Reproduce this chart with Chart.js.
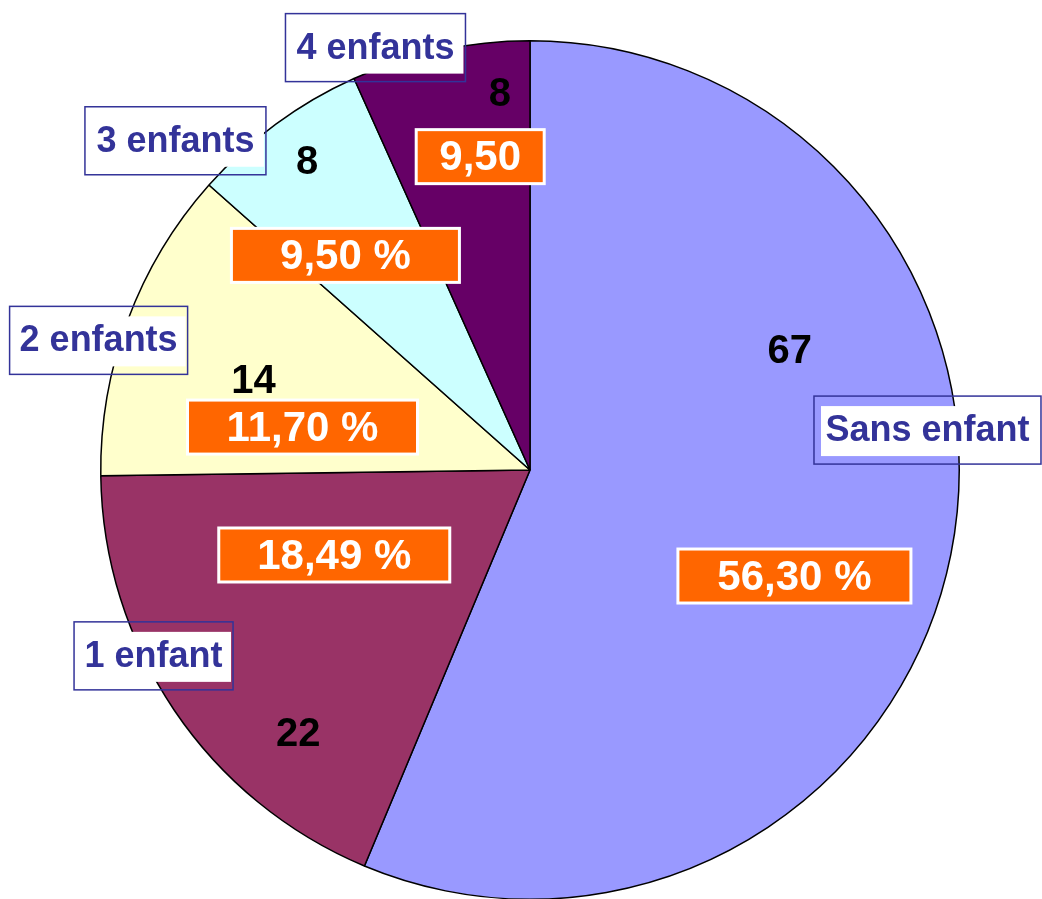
<!DOCTYPE html>
<html>
<head>
<meta charset="utf-8">
<script src="https://cdn.jsdelivr.net/npm/chart.js@4.4.0/dist/chart.umd.min.js"></script>
<style>
    html, body { margin: 0; padding: 0; background: #ffffff; overflow: hidden; }
    #wrap { position: relative; width: 1042px; height: 900px; }
</style>
</head>
<body>
<div id="wrap"><canvas id="pieChart"></canvas></div>
<script>
// data (clockwise from 12 o'clock)
var categories = ['Sans enfant', '1 enfant', '2 enfants', '3 enfants', '4 enfants'];
var counts = [67, 22, 14, 8, 8];
var percentLabels = ['56,30 %', '18,49 %', '11,70 %', '9,50 %', '9,50'];
var sliceColors = ['#9999ff', '#993366', '#ffffcc', '#ccffff', '#660066'];

// label placement, in fractions of the pie radius from its centre
var namePos = [[0.926, -0.093], [-0.877, 0.433], [-1.005, -0.302], [-0.826, -0.767], [-0.360, -0.984]];
var nameBoxW = [227, 159, 178, 181, 180];
var valuePos = [[0.605, -0.279], [-0.540, 0.612], [-0.644, -0.209], [-0.519, -0.721], [-0.070, -0.879]];
var pctPos = [[0.616, 0.247], [-0.456, 0.198], [-0.530, -0.100], [-0.430, -0.500], [-0.116, -0.730]];
var pctBoxW = [233, 231, 230, 228, 128];

document.addEventListener('DOMContentLoaded', function() {
    var labelPlugin = {
        id: 'sliceLabels',
        afterDraw: function(chart) {
            var ctx = chart.ctx;
            var arc = chart.getDatasetMeta(0).data[0];
            var cx = arc.x, cy = arc.y, r = arc.outerRadius;
            ctx.save();
            ctx.textAlign = 'center';
            ctx.textBaseline = 'middle';

            for (var i = 0; i < categories.length; i++) {
                // orange percentage box
                var px = cx + pctPos[i][0] * r, py = cy + pctPos[i][1] * r;
                var w = pctBoxW[i], h = 54;
                ctx.fillStyle = '#ff6600';
                ctx.fillRect(px - w / 2, py - h / 2, w, h);
                ctx.strokeStyle = '#ffffff';
                ctx.lineWidth = 3;
                ctx.strokeRect(px - w / 2, py - h / 2, w, h);
                ctx.fillStyle = '#ffffff';
                ctx.font = 'bold 42px "Liberation Sans", Arial, sans-serif';
                ctx.fillText(percentLabels[i], px, py + 2);

                // count
                ctx.fillStyle = '#000000';
                ctx.font = 'bold 40px "Liberation Sans", Arial, sans-serif';
                ctx.fillText(String(counts[i]), cx + valuePos[i][0] * r, cy + valuePos[i][1] * r + 2);

                // category name box
                var nx = cx + namePos[i][0] * r, ny = cy + namePos[i][1] * r;
                var bw = nameBoxW[i], bh = 68;
                ctx.fillStyle = '#ffffff';
                ctx.fillRect(nx - bw / 2 + 7, ny - bh / 2 + 10, bw - 9, bh - 18);
                ctx.strokeStyle = '#333399';
                ctx.lineWidth = 1.5;
                ctx.strokeRect(nx - bw / 2, ny - bh / 2, bw, bh);
                ctx.fillStyle = '#333399';
                ctx.font = 'bold 36px "Liberation Sans", Arial, sans-serif';
                ctx.fillText(categories[i], nx, ny + 1);
            }
            ctx.restore();
        }
    };

    var ctx = document.getElementById('pieChart').getContext('2d');
    new Chart(ctx, {
        type: 'pie',
        data: {
            labels: categories,
            datasets: [{
                data: counts,
                backgroundColor: sliceColors,
                borderColor: '#000000',
                borderWidth: 1.5
            }]
        },
        options: {
            responsive: true,
            maintainAspectRatio: false,
            animation: false,
            layout: { padding: { top: 40, bottom: 0, left: 100, right: 82 } },
            plugins: {
                legend: { display: false },
                tooltip: { enabled: false }
            }
        },
        plugins: [labelPlugin]
    });
});
</script>
</body>
</html>
